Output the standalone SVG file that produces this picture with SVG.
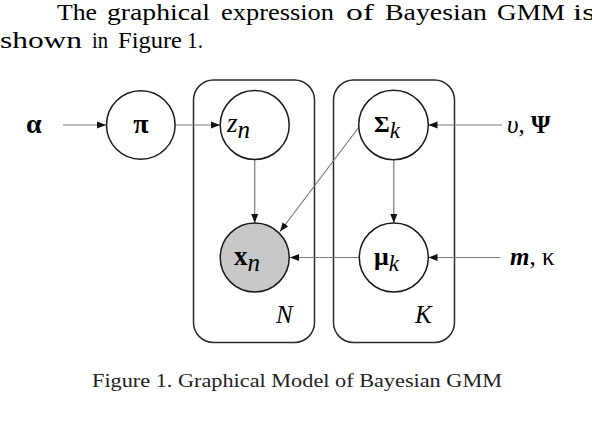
<svg xmlns="http://www.w3.org/2000/svg" width="592" height="422" viewBox="0 0 592 422">
<style>
.body{font-family:"Liberation Serif","Times New Roman",serif;font-size:24px;fill:#000}
.cap{font-family:"Liberation Serif","Times New Roman",serif;font-size:19px;fill:#222}
.m{font-family:"Liberation Serif","DejaVu Serif",serif;fill:#000}
.b{font-weight:bold}
.i{font-style:italic}
.node{fill:#fff;stroke:#1a1a1a;stroke-width:1.5}
.obs{fill:#c8c8c8}
.plate{fill:none;stroke:#2a2a2a;stroke-width:1.5}
.edge{stroke:#7a7a7a;stroke-width:1.2;fill:none;marker-end:url(#ah)}
</style>
<defs>
<marker id="ah" markerUnits="userSpaceOnUse" markerWidth="9" markerHeight="8" refX="9" refY="4" orient="auto">
<path d="M0,0.5 L9,4 L0,7.5 z" fill="#111"/>
</marker>
</defs>
<rect width="592" height="422" fill="#fff"/>
<g id="paragraph" class="body">
<text x="57" y="20" textLength="40" lengthAdjust="spacingAndGlyphs">The</text>
<text x="107" y="20" textLength="103" lengthAdjust="spacingAndGlyphs">graphical</text>
<text x="221" y="20" textLength="113" lengthAdjust="spacingAndGlyphs">expression</text>
<text x="346" y="20" textLength="28" lengthAdjust="spacingAndGlyphs">of</text>
<text x="385" y="20" textLength="102" lengthAdjust="spacingAndGlyphs">Bayesian</text>
<text x="497" y="20" textLength="68" lengthAdjust="spacingAndGlyphs">GMM</text>
<text x="573" y="20" textLength="22" lengthAdjust="spacingAndGlyphs">is</text>
<text x="0" y="48" textLength="82" lengthAdjust="spacingAndGlyphs">shown</text>
<text x="92" y="48" textLength="16" lengthAdjust="spacingAndGlyphs">in</text>
<text x="118" y="48" textLength="64" lengthAdjust="spacingAndGlyphs">Figure</text>
<text x="187" y="48" textLength="16" lengthAdjust="spacingAndGlyphs">1.</text>
</g>
<g id="plate-N">
<rect class="plate" x="193.5" y="80" width="121" height="262.5" rx="20"/>
<text class="m i" x="276" y="323" font-size="25">N</text>
</g>
<g id="plate-K">
<rect class="plate" x="333.5" y="80" width="121" height="262.5" rx="20"/>
<text class="m i" x="415" y="323" font-size="25">K</text>
</g>
<g id="connectors">
<line class="edge" x1="63" y1="125" x2="106" y2="125"/>
<line class="edge" x1="175.5" y1="125" x2="220" y2="125"/>
<line class="edge" x1="502" y1="125" x2="428.5" y2="125"/>
<line class="edge" x1="500" y1="257.5" x2="428.5" y2="257.5"/>
<line class="edge" x1="254.7" y1="159.5" x2="254.7" y2="223"/>
<line class="edge" x1="393.8" y1="159.5" x2="393.8" y2="223"/>
<line class="edge" x1="359.3" y1="257.5" x2="290" y2="257.5"/>
<line class="edge" x1="359" y1="127" x2="280" y2="231.5"/>
</g>
<g id="alpha">
<text class="m b" x="26" y="133" font-size="28">α</text>
</g>
<g id="pi">
<circle class="node" cx="140.8" cy="125" r="34.3"/>
<text class="m b" x="140.8" y="133" font-size="28" text-anchor="middle">π</text>
</g>
<g id="z_n">
<circle class="node" cx="254.7" cy="125" r="34.5"/>
<text class="m i" x="227" y="132" font-size="27">z<tspan font-size="25" dy="6">n</tspan></text>
</g>
<g id="Sigma_k">
<circle class="node" cx="393.5" cy="125" r="34.8"/>
<text class="m b" x="374" y="132" font-size="24">Σ<tspan class="i" font-weight="normal" font-size="23" dy="6">k</tspan></text>
</g>
<g id="nu_Psi">
<text class="m" x="507" y="133" font-size="25"><tspan class="i">υ</tspan>, <tspan class="b">Ψ</tspan></text>
</g>
<g id="x_n">
<circle class="node obs" cx="254.7" cy="257.5" r="34.5"/>
<text class="m b" x="234" y="265" font-size="27">x<tspan font-weight="normal" class="i" font-size="25" dy="6">n</tspan></text>
</g>
<g id="mu_k">
<circle class="node" cx="393.8" cy="257.5" r="34.5"/>
<text class="m b" x="374" y="265" font-size="26">μ<tspan class="i" font-weight="normal" font-size="23" dy="6">k</tspan></text>
</g>
<g id="m_kappa">
<text class="m" x="510" y="265" font-size="25"><tspan class="b i">m</tspan>, κ</text>
</g>
<g id="caption">
<text class="cap" x="92" y="387" textLength="410" lengthAdjust="spacingAndGlyphs">Figure 1. Graphical Model of Bayesian GMM</text>
</g>
</svg>
